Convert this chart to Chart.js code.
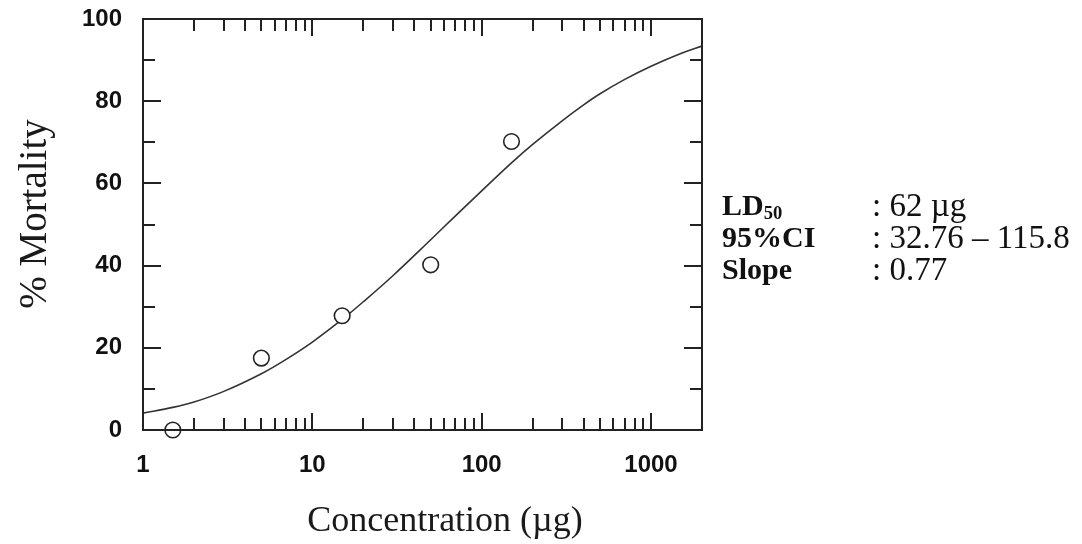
<!DOCTYPE html>
<html>
<head>
<meta charset="utf-8">
<script src="https://cdn.jsdelivr.net/npm/chart.js@4.4.1/dist/chart.umd.min.js"></script>
<style>
  html, body { margin: 0; padding: 0; background: #fff; }
  #wrap { position: relative; width: 1082px; height: 544px; overflow: hidden; }
  #c { position: absolute; left: 0; top: 0; }
  .stats { position: absolute; left: 722px; top: 189px; font-family: "Liberation Serif", "Times New Roman", serif; line-height: 32px; color: #111; }
  .row { position: relative; height: 32px; white-space: nowrap; }
  .lab { position: absolute; left: 0; font-weight: bold; font-size: 30px; }
  .val { position: absolute; left: 150px; font-size: 33px; }
  .lab sub { font-size: 0.62em; vertical-align: -0.22em; line-height: 0; }
</style>
</head>
<body>
<div id="wrap">
  <canvas id="c" width="1082" height="544"></canvas>
  <div class="stats">
    <div class="row"><span class="lab">LD<sub>50</sub></span><span class="val">: 62 µg</span></div>
    <div class="row"><span class="lab">95%CI</span><span class="val">: 32.76 – 115.8</span></div>
    <div class="row"><span class="lab">Slope</span><span class="val">: 0.77</span></div>
  </div>
</div>
<script>
// Observed data points (concentration in µg, % mortality)
const obsConc = [1.5, 5, 15, 50, 150];
const obsMort = [0, 17.5, 27.8, 40.2, 70.2];

// Fitted curve
const fitConc = [1, 1.5, 2, 3, 5, 7, 10, 15, 20, 30, 50, 70, 100, 150, 200, 300, 400, 500, 700, 1000, 1500, 2000];
const fitMort = [4.1, 5.5, 6.8, 9.4, 13.7, 17.2, 21.4, 26.9, 31.2, 37.6, 46.3, 52.1, 58.2, 65.0, 69.5, 75.3, 79.1, 81.8, 85.3, 88.5, 91.6, 93.4];

// Axis ticks and titles
const xTickLabels = [1, 10, 100, 1000];
const xRange = [1, 2000];
const yTickLabels = [0, 20, 40, 60, 80, 100];
const yMinorTicks = [10, 30, 50, 70, 90];
const xTitle = 'Concentration (µg)';
const yTitle = '% Mortality';

const frameAndTitles = {
  id: 'frameAndTitles',
  afterDatasetsDraw(chart) {
    const ctx = chart.ctx;
    const a = chart.chartArea;
    const xs = chart.scales.x, ys = chart.scales.y;
    ctx.save();
    ctx.strokeStyle = '#222';
    ctx.lineWidth = 2;
    ctx.lineCap = 'butt';
    ctx.strokeRect(a.left, a.top, a.right - a.left, a.bottom - a.top);
    ctx.beginPath();
    xTickLabels.forEach(d => {
      for (let m = 1; m <= 9; m++) {
        const v = d * m;
        if (v <= xRange[0] || v >= xRange[1]) continue;
        const px = Math.round(xs.getPixelForValue(v));
        const len = m === 1 ? 17 : 12;
        ctx.moveTo(px, a.bottom); ctx.lineTo(px, a.bottom - len);
        ctx.moveTo(px, a.top); ctx.lineTo(px, a.top + len);
      }
    });
    const yAll = yTickLabels.filter(v => v > 0 && v < 100).map(v => [v, 18])
      .concat(yMinorTicks.map(v => [v, 12]));
    yAll.forEach(([v, len]) => {
      const py = Math.round(ys.getPixelForValue(v));
      ctx.moveTo(a.left, py); ctx.lineTo(a.left + len, py);
      ctx.moveTo(a.right, py); ctx.lineTo(a.right - len, py);
    });
    ctx.stroke();

    // axis titles
    ctx.fillStyle = '#1a1a1a';
    ctx.textAlign = 'center';
    ctx.textBaseline = 'middle';
    ctx.font = '36px "Liberation Serif", "Times New Roman", serif';
    ctx.fillText(xTitle, 445, 522);
    ctx.translate(36, 214);
    ctx.rotate(-Math.PI / 2);
    ctx.font = '39px "Liberation Serif", "Times New Roman", serif';
    ctx.fillText(yTitle, 0, 0);
    ctx.restore();
  }
};

new Chart(document.getElementById('c'), {
  type: 'scatter',
  data: {
    datasets: [
      {
        label: 'Observed',
        data: obsConc.map((x, i) => ({ x: x, y: obsMort[i] })),
        pointStyle: 'circle',
        pointRadius: 7.8,
        pointBorderWidth: 1.6,
        pointBorderColor: '#222',
        pointBackgroundColor: '#fff',
        showLine: false,
        clip: false,
        order: 0
      },
      {
        label: 'Fit',
        data: fitConc.map((x, i) => ({ x: x, y: fitMort[i] })),
        showLine: true,
        borderColor: '#333',
        borderWidth: 1.6,
        pointRadius: 0,
        tension: 0.35,
        fill: false,
        order: 1
      }
    ]
  },
  options: {
    responsive: false,
    animation: false,
    devicePixelRatio: 1,
    layout: { padding: { left: 0, right: 380, top: 19, bottom: 0 } },
    plugins: { legend: { display: false }, tooltip: { enabled: false } },
    scales: {
      x: {
        type: 'logarithmic',
        position: 'bottom',
        min: xRange[0],
        max: xRange[1],
        grid: { display: false, drawTicks: false },
        border: { display: false },
        afterBuildTicks(scale) { scale.ticks = xTickLabels.map(v => ({ value: v })); },
        afterFit(scale) { scale.height = 114; scale.paddingLeft = 0; scale.paddingRight = 0; },
        ticks: {
          autoSkip: false,
          maxRotation: 0,
          padding: 21,
          color: '#111',
          font: { family: '"Liberation Sans", Arial, sans-serif', size: 24, weight: 'bold' },
          callback: (v) => String(v)
        },
        title: { display: false }
      },
      y: {
        type: 'linear',
        min: 0,
        max: 100,
        grid: { display: false, drawTicks: false },
        border: { display: false },
        afterBuildTicks(scale) { scale.ticks = yTickLabels.map(v => ({ value: v })); },
        afterFit(scale) { scale.width = 143; scale.paddingTop = 0; scale.paddingBottom = 0; },
        ticks: {
          padding: 21,
          color: '#111',
          font: { family: '"Liberation Sans", Arial, sans-serif', size: 24, weight: 'bold' }
        },
        title: { display: false }
      }
    }
  },
  plugins: [frameAndTitles]
});
</script>
</body>
</html>
